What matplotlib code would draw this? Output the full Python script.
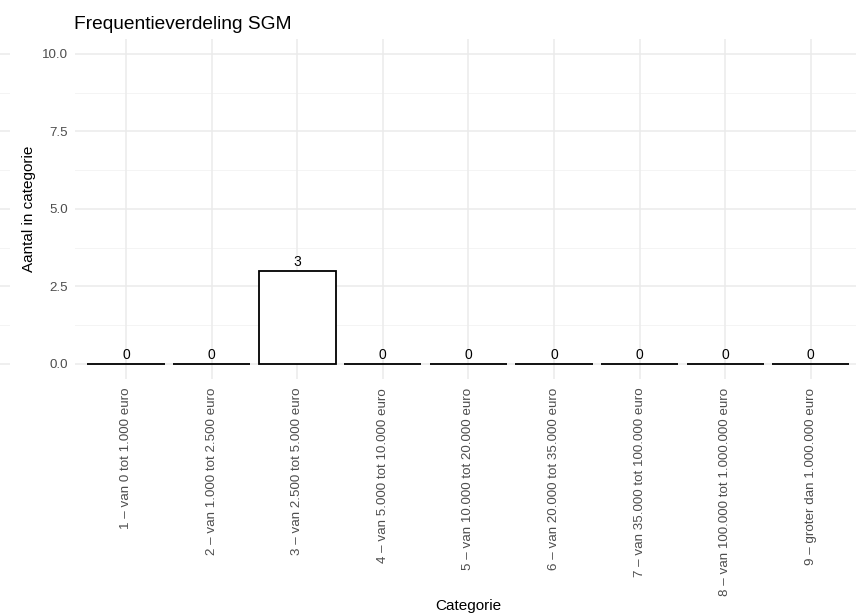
import numpy as np
import matplotlib.pyplot as plt

# data
categories = [
    "1 – van 0 tot 1.000 euro",
    "2 – van 1.000 tot 2.500 euro",
    "3 – van 2.500 tot 5.000 euro",
    "4 – van 5.000 tot 10.000 euro",
    "5 – van 10.000 tot 20.000 euro",
    "6 – van 20.000 tot 35.000 euro",
    "7 – van 35.000 tot 100.000 euro",
    "8 – van 100.000 tot 1.000.000 euro",
    "9 – groter dan 1.000.000 euro",
]
counts = [0, 0, 3, 0, 0, 0, 0, 0, 0]
y_ticks = [0.0, 2.5, 5.0, 7.5, 10.0]
y_minor = [1.25, 3.75, 6.25, 8.75]

plt.rcParams["font.family"] = ["Liberation Sans", "DejaVu Sans"]

fig = plt.figure(figsize=(8.56, 6.16), dpi=100)

# cut-off neighbour panel at the far left edge
stub = fig.add_axes([-0.02, 0.384, 0.032, 0.5535])
stub.set_ylim(-0.5, 10.5)
for yv in y_minor:
    stub.axhline(yv, color="#F2F2F2", lw=0.6)
for yv in y_ticks:
    stub.axhline(yv, color="#EBEBEB", lw=1.1)
stub.axis("off")

ax = fig.add_axes([0.0872, 0.384, 0.92, 0.5535])

x = np.arange(len(categories))
ax.set_axisbelow(True)
for yv in y_minor:
    ax.axhline(yv, color="#F2F2F2", lw=0.6, zorder=0)
for yv in y_ticks:
    ax.axhline(yv, color="#EBEBEB", lw=1.1, zorder=0)
for xv in x:
    ax.axvline(xv, color="#EBEBEB", lw=1.1, zorder=0)

ax.bar(x, counts, width=0.9, facecolor="white", edgecolor="black", lw=1.3, zorder=2)
for xi, c in zip(x, counts):
    ax.text(xi, c + 0.05, str(c), ha="center", va="bottom", fontsize=10, color="black")

ax.set_xlim(-0.6, len(categories) - 0.4)
ax.set_ylim(-0.5, 10.5)
ax.set_yticks(y_ticks)
ax.set_yticklabels([f"{v:.1f}" for v in y_ticks])
ax.set_xticks(x)
ax.set_xticklabels(categories, rotation=90, va="top", ha="center")
ax.tick_params(axis="both", length=0, colors="#4D4D4D", labelsize=9.6)
ax.tick_params(axis="x", pad=6)
ax.tick_params(axis="y", pad=5)
for s in ax.spines.values():
    s.set_visible(False)

ax.set_xlabel("Categorie", fontsize=11, labelpad=2)
ax.set_ylabel("Aantal in categorie", fontsize=11, labelpad=4)
fig.text(0.0865, 0.96, "Frequentieverdeling SGM", fontsize=13.8, ha="left", va="center")

fig.savefig("out.png", dpi=100)
